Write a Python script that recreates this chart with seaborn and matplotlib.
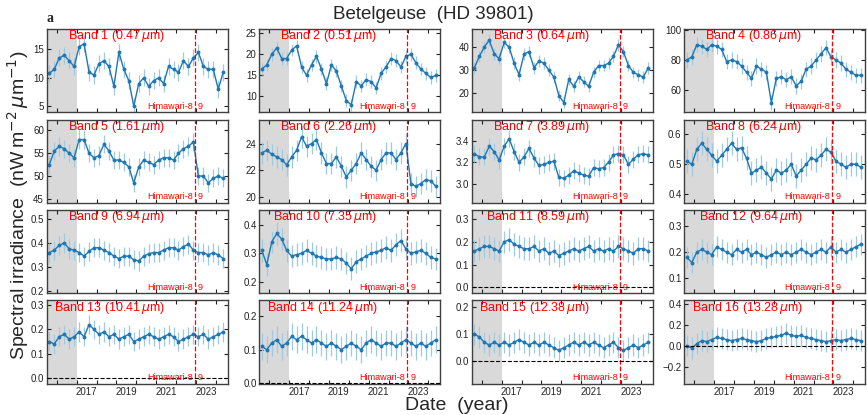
import pandas as pd
import matplotlib
matplotlib.use("Agg")
import matplotlib.pyplot as plt
import matplotlib.transforms as mtransforms
import seaborn as sns

# quarterly bins (decimal year, bin centres)
years = [2015.625 + 0.25 * k for k in range(36)]

wavelengths = ["0.47", "0.51", "0.64", "0.86", "1.61", "2.26", "3.89", "6.24",
               "6.94", "7.35", "8.59", "9.64", "10.41", "11.24", "12.38", "13.28"]

# band values (nW m^-2 um^-1)
band01 = [10.8, 11.5, 13.5, 14, 13, 12, 15.5, 16, 11, 10.5, 12.5, 13, 12, 8.5, 14.5, 11.5, 9.5, 5,
          9, 10, 8.5, 9.5, 10, 9, 12, 11.5, 11, 13, 12, 13.5, 14.5, 12, 11.5, 11.5, 8, 11]
band02 = [16.5, 17.5, 20, 21.5, 19, 19, 21, 22, 17, 15, 17.5, 19.5, 16.5, 13, 17.5, 16, 12.5, 9,
          8, 13.5, 12.5, 14, 13.5, 12, 15.5, 17, 19, 18.5, 17, 19.5, 20, 18, 16.5, 15.5, 14.5, 15]
band03 = [31, 36, 40, 43, 37, 35, 42, 40, 33, 28, 37, 38, 31, 34, 33, 30, 27, 19,
          16, 26, 23, 27, 25, 23, 29, 32, 32, 33, 36, 41, 38, 32, 29, 28, 27, 31]
band04 = [80, 82, 90, 89, 87, 90, 89, 87, 79, 80, 79, 76, 72, 68, 76, 74, 72, 52,
          68, 69, 67, 69, 63, 66, 74, 76, 80, 84, 88, 82, 80, 78, 74, 72, 70, 70]
band05 = [52.5, 55.5, 56.5, 56, 55, 54, 58, 58, 55, 54, 54.5, 57, 55.5, 53.5, 53.5, 53, 52, 48.5,
          52, 53.5, 53, 52.5, 53.5, 54, 54, 53.5, 55, 56, 56.5, 57.5, 50, 50, 48.5, 49.5, 50, 49.5]
band06 = [23.3, 23.5, 23.2, 23, 22.8, 22.4, 23, 23.5, 24.5, 23.8, 24, 24.3, 23.3, 22.5, 22.5, 23, 22.3, 21.5,
          22, 22.5, 23.3, 22.8, 22.3, 22, 22.8, 23.3, 23.3, 22.8, 23.3, 24, 21, 20.8, 21, 21.3, 21.2, 20.8]
band07 = [3.28, 3.25, 3.25, 3.35, 3.3, 3.22, 3.35, 3.42, 3.3, 3.2, 3.25, 3.33, 3.24, 3.17, 3.18, 3.2, 3.21, 3.06,
          3.05, 3.08, 3.12, 3.1, 3.08, 3.07, 3.15, 3.14, 3.15, 3.2, 3.27, 3.28, 3.27, 3.18, 3.23, 3.27, 3.28, 3.27]
band08 = [0.51, 0.5, 0.55, 0.57, 0.55, 0.53, 0.51, 0.53, 0.55, 0.57, 0.55, 0.555, 0.52, 0.47, 0.48, 0.49, 0.47, 0.45,
          0.48, 0.47, 0.48, 0.5, 0.46, 0.48, 0.5, 0.52, 0.515, 0.53, 0.55, 0.54, 0.51, 0.5, 0.49, 0.5, 0.5, 0.49]
band09 = [0.36, 0.37, 0.39, 0.4, 0.375, 0.37, 0.36, 0.345, 0.365, 0.38, 0.38, 0.37, 0.36, 0.345, 0.335, 0.345, 0.345, 0.33,
          0.325, 0.345, 0.355, 0.36, 0.36, 0.37, 0.38, 0.38, 0.37, 0.385, 0.395, 0.37, 0.36, 0.36, 0.35, 0.36, 0.35, 0.335]
band10 = [0.31, 0.26, 0.34, 0.37, 0.35, 0.31, 0.29, 0.295, 0.3, 0.31, 0.3, 0.29, 0.285, 0.28, 0.28, 0.285, 0.28, 0.265,
          0.245, 0.27, 0.28, 0.29, 0.3, 0.305, 0.31, 0.32, 0.31, 0.33, 0.345, 0.315, 0.3, 0.305, 0.31, 0.3, 0.285, 0.28]
band11 = [0.16, 0.17, 0.18, 0.18, 0.17, 0.16, 0.2, 0.21, 0.19, 0.18, 0.17, 0.17, 0.18, 0.16, 0.17, 0.15, 0.16, 0.14,
          0.15, 0.16, 0.17, 0.16, 0.17, 0.18, 0.16, 0.17, 0.16, 0.17, 0.16, 0.18, 0.17, 0.16, 0.15, 0.17, 0.17, 0.16]
band12 = [0.18, 0.16, 0.2, 0.21, 0.2, 0.19, 0.22, 0.21, 0.2, 0.19, 0.21, 0.2, 0.21, 0.19, 0.2, 0.19, 0.18, 0.19,
          0.2, 0.19, 0.2, 0.19, 0.2, 0.21, 0.2, 0.19, 0.2, 0.21, 0.2, 0.22, 0.2, 0.21, 0.2, 0.21, 0.22, 0.23]
band13 = [0.15, 0.14, 0.17, 0.18, 0.16, 0.17, 0.19, 0.17, 0.22, 0.2, 0.18, 0.19, 0.17, 0.18, 0.16, 0.17, 0.18, 0.15,
          0.16, 0.17, 0.18, 0.17, 0.16, 0.17, 0.18, 0.17, 0.15, 0.16, 0.17, 0.18, 0.17, 0.18, 0.16, 0.17, 0.18, 0.19]
band14 = [0.11, 0.1, 0.12, 0.13, 0.11, 0.12, 0.14, 0.13, 0.14, 0.13, 0.12, 0.13, 0.12, 0.11, 0.12, 0.11, 0.1, 0.11,
          0.12, 0.11, 0.1, 0.12, 0.13, 0.12, 0.11, 0.12, 0.12, 0.11, 0.12, 0.13, 0.12, 0.11, 0.12, 0.11, 0.12, 0.13]
band15 = [0.1, 0.09, 0.07, 0.06, 0.07, 0.06, 0.07, 0.06, 0.07, 0.08, 0.07, 0.06, 0.07, 0.06, 0.07, 0.06, 0.05, 0.04,
          0.05, 0.06, 0.07, 0.06, 0.07, 0.06, 0.07, 0.06, 0.05, 0.06, 0.07, 0.05, 0.04, 0.05, 0.06, 0.05, 0.06, 0.07]
band16 = [0.0, -0.02, 0.02, 0.05, 0.04, 0.06, 0.08, 0.07, 0.06, 0.05, 0.06, 0.07, 0.06, 0.05, 0.04, 0.05, 0.07, 0.08,
          0.09, 0.1, 0.12, 0.1, 0.09, 0.1, 0.08, 0.07, 0.06, 0.05, 0.04, 0.05, 0.06, 0.05, 0.06, 0.07, 0.06, 0.05]

# typical half-width of the error bars per band
spread = [1.5, 1.5, 2.5, 5, 2, 0.8, 0.08, 0.04, 0.04, 0.04, 0.05, 0.04, 0.04, 0.04, 0.04, 0.1]

series = [band01, band02, band03, band04, band05, band06, band07, band08,
          band09, band10, band11, band12, band13, band14, band15, band16]

# axis ranges / ticks per panel
ylims = [(3.9, 18.6), (6.2, 26.0), (11.7, 47.8), (45.6, 100.3), (44.1, 62.4), (19.55, 25.8),
         (2.82, 3.6), (0.37, 0.65), (0.19, 0.537), (0.158, 0.453), (-0.026, 0.34), (0.043, 0.36),
         (-0.025, 0.32), (-0.003, 0.248), (-0.085, 0.226), (-0.36, 0.43)]
yticks = [[5, 10, 15], [10, 15, 20, 25], [20, 30, 40], [60, 80, 100], [45, 50, 55, 60], [20, 22, 24],
          [3.0, 3.2, 3.4], [0.4, 0.5, 0.6], [0.2, 0.3, 0.4, 0.5], [0.2, 0.3, 0.4], [0.0, 0.1, 0.2, 0.3],
          [0.1, 0.2, 0.3], [0.0, 0.1, 0.2, 0.3], [0.0, 0.1, 0.2], [0.0, 0.1, 0.2], [-0.2, 0.0, 0.2, 0.4]]

switch_year = 2022.95   # Himawari-8 -> 9
gray_end = 2017.0

sns.set_style("ticks")
plt.rcParams["font.family"] = ["Liberation Sans", "DejaVu Sans"]
plt.rcParams["mathtext.fontset"] = "dejavusans"

fig, axes = plt.subplots(4, 4, figsize=(8.67, 4.15), dpi=100)
fig.subplots_adjust(left=0.054, right=0.998, top=0.930, bottom=0.075, wspace=0.175, hspace=0.085)

for i, ax in enumerate(axes.flat):
    df = pd.DataFrame({"year": years, "flux": series[i]})
    ax.axvspan(2015.0, gray_end, color="#d9d9d9", lw=0, zorder=0)
    ax.errorbar(df["year"], df["flux"], yerr=spread[i], fmt="none",
                ecolor="#9ecae1", elinewidth=0.9, zorder=1)
    sns.lineplot(data=df, x="year", y="flux", ax=ax, color="#1f77b4", lw=1.0,
                 marker="o", markersize=2.8, markeredgewidth=0, zorder=2)
    ax.axvline(switch_year, color="red", ls="--", lw=0.9, zorder=3)
    if ylims[i][0] < 0.0:
        ax.axhline(0.0, color="black", ls="--", lw=0.8, zorder=3)

    ax.set_xlim(2015.5, 2024.6)
    ax.set_ylim(ylims[i])
    ax.set_yticks(yticks[i])
    ax.set_xticks(range(2016, 2025))
    ax.set_xticklabels([])
    ax.set_xticks([2017.5, 2019.5, 2021.5, 2023.5], minor=True)
    if i >= 12:
        ax.set_xticklabels(["2017", "2019", "2021", "2023"], minor=True)
    else:
        ax.set_xticklabels([], minor=True)
    ax.set_xlabel("")
    ax.set_ylabel("")
    ax.tick_params(axis="both", which="major", direction="in", top=True, right=True,
                   length=3, width=0.8, labelsize=7, pad=2, colors="#222222")
    ax.tick_params(axis="x", which="minor", length=0, labelsize=7, pad=2)
    for s in ax.spines.values():
        s.set_color("#404040")
        s.set_linewidth(1.0)

    ax.text(0.655, 1.01, "Band %d (%s$\\,\\mu$m)" % (i + 1, wavelengths[i]),
            transform=ax.transAxes, ha="right", va="top", color="red", fontsize=9)
    trans = mtransforms.blended_transform_factory(ax.transData, ax.transAxes)
    ax.text(switch_year - 0.12, 0.02, "Himawari-8", transform=trans, ha="right", va="bottom",
            color="red", fontsize=6.5)
    ax.text(switch_year + 0.15, 0.02, "9", transform=trans, ha="left", va="bottom",
            color="red", fontsize=6.5)

fig.suptitle("Betelgeuse  (HD 39801)", x=0.5, y=0.966, va="center", fontsize=13.5)
fig.text(0.054, 0.947, "a", family="Liberation Serif", fontweight="bold", fontsize=10, va="baseline")
fig.text(0.527, 0.024, "Date  (year)", ha="center", va="center", fontsize=14)
fig.text(0.021, 0.506, "Spectral irradiance  (nW$\\,$m$^{-2}\\,\\mu$m$^{-1}$)",
         rotation=90, ha="center", va="center", fontsize=14)

plt.savefig("out.png", dpi=100)
